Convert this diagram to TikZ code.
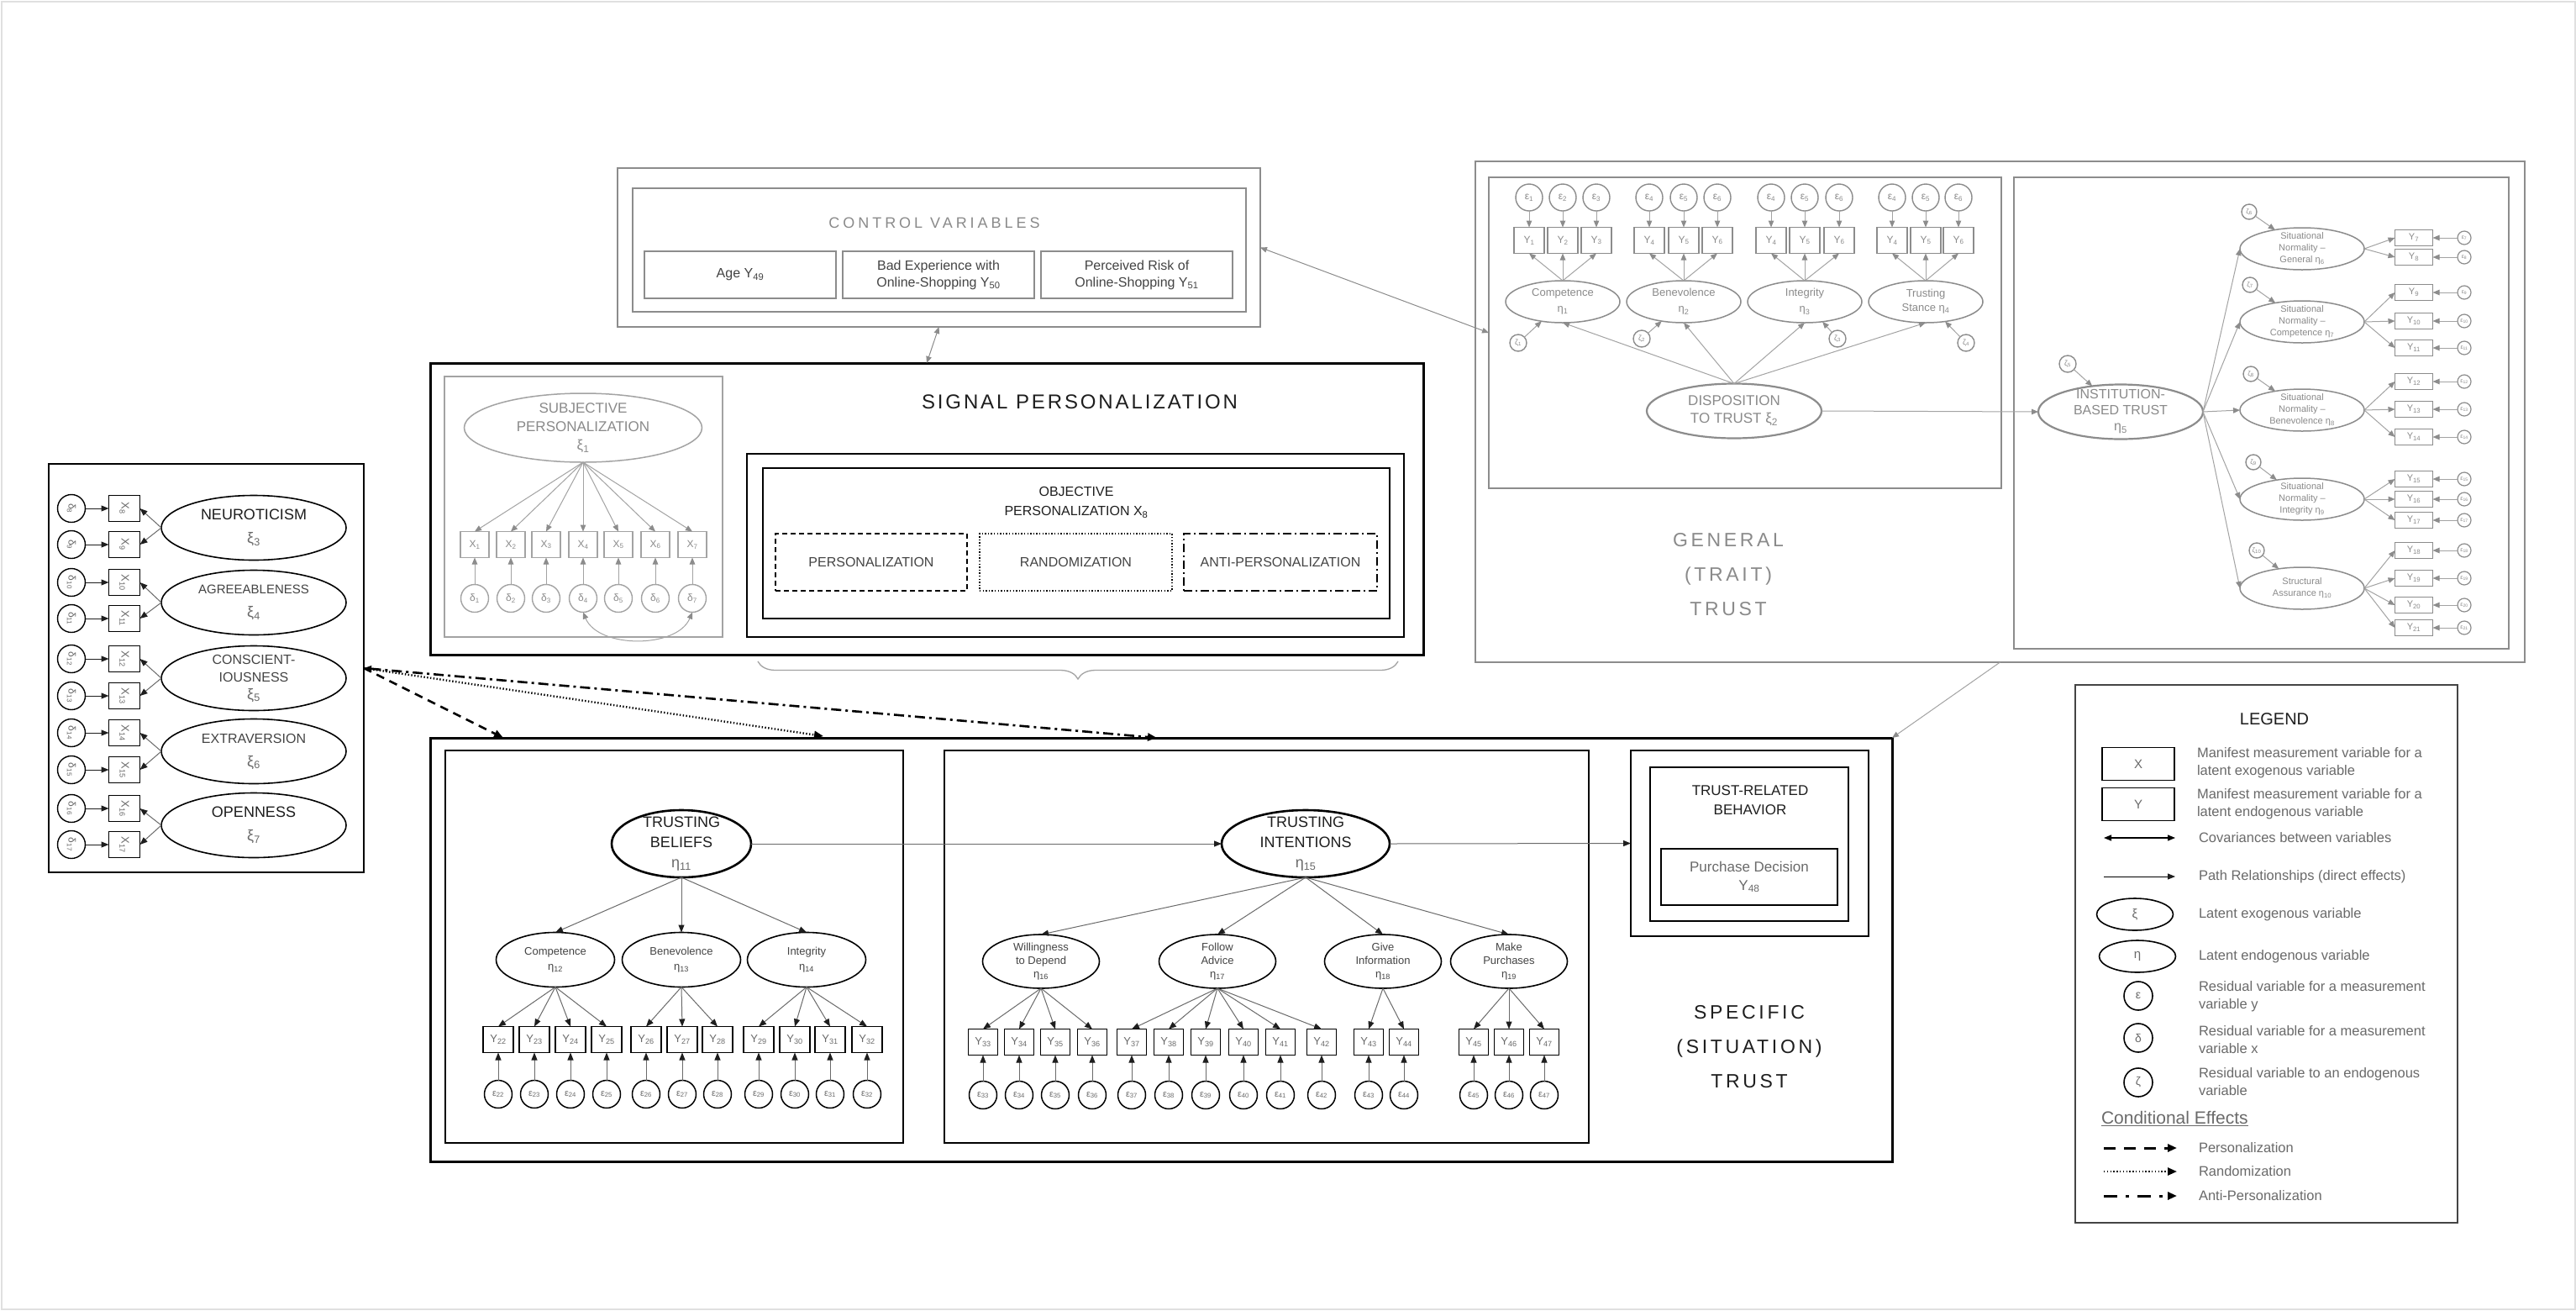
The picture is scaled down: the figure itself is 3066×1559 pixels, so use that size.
\documentclass[tikz,border=0pt]{standalone}
\usepackage{fontspec}
\setmainfont{Liberation Sans}
\newfontfamily\trackA[LetterSpace=12]{Liberation Sans}
\newfontfamily\trackB[LetterSpace=16]{Liberation Sans}
\newfontfamily\trackC[LetterSpace=22]{Liberation Sans}
\usetikzlibrary{shapes.geometric,arrows.meta,decorations.pathreplacing,calc}
\newcommand\fs[2]{\fontsize{#1}{#2}\selectfont}
\newcommand\sbs[1]{\textsubscript{#1}}
\definecolor{ink}{HTML}{1E1E1E}
\definecolor{dim}{HTML}{444444}
\definecolor{soft}{HTML}{6A6A6A}
\definecolor{gline}{HTML}{8C8C8C}
\definecolor{gtext}{HTML}{8A8A8A}
\definecolor{lline}{HTML}{A3A3A3}

\begin{document}
\begin{tikzpicture}[x=1pt,y=-1pt,
  every node/.style={inner sep=0pt, outer sep=0pt},
  sz/.style 2 args={minimum width=#1pt, minimum height=#2pt},
  panel/.style={draw, rectangle, anchor=north west, align=center},
  lat/.style={draw, ellipse, align=center, inner sep=-15pt},
  res/.style={draw, circle},
  mv/.style={draw, rectangle},
  ktip/.style={-{Triangle[length=9pt,width=7pt,color=ink]}},
  gtip/.style={-{Triangle[length=8pt,width=6.5pt,color=gline]}},
  lnk/.style={line width=1pt, draw=soft, ktip},
  glnk/.style={line width=1pt, draw=lline, gtip},
  % black model parts
  bmv/.style={mv, line width=1.5pt, text=soft},
  bres/.style={res, line width=1.5pt, text=soft},
  % grey model parts
  gmv/.style={mv, draw=gline, line width=1.4pt, text=gtext},
  gres/.style={res, draw=gline, line width=1.4pt, text=gtext},
  glat/.style={lat, draw=gline, line width=1.5pt, text=gtext},
  condP/.style={line width=2.6pt, dash pattern=on 10pt off 7pt, -{Triangle[length=11pt,width=9pt]}},
  condR/.style={line width=2.4pt, dash pattern=on 1.4pt off 2.4pt, -{Triangle[length=11pt,width=9pt]}},
  condA/.style={line width=2.6pt, dash pattern=on 12pt off 5pt on 3pt off 5pt, -{Triangle[length=11pt,width=9pt]}},
]
\fill[white] (0,0) rectangle (3066,1559);
\useasboundingbox (0,0) rectangle (3066,1559);
\draw[black!12, line width=2pt] (1.5,1.5) rectangle (3064.5,1557.5);

%% ---------- Big Five personality traits ----------
\node[panel, line width=1.4pt, sz={375}{486}] (big5) at (58,552) {};
\foreach \i/\yy in {8/605,9/648,10/693,11/736,12/784,13/828,14/872,15/916,16/962,17/1005}{
  \node[res, line width=1.4pt, minimum size=33pt, text=soft, font=\fs{12}{14}] (d\i) at (85,\yy) {\rotatebox{-90}{δ\sbs{\i}}};
  \node[mv, line width=1.4pt, sz={37}{31}, text=soft, font=\fs{13}{15}] (x\i) at (148,\yy) {\rotatebox{-90}{X\sbs{\i}}};
  \draw[line width=1pt, draw=ink, ktip] (d\i) -- (x\i);
}
\node[lat, line width=1.6pt, sz={220}{77}, font=\fs{18}{28}, text=ink] (neu) at (302,628) {NEUROTICISM\\{\color{soft}ξ\sbs{3}}};
\node[lat, line width=1.6pt, sz={220}{77}, font=\fs{15}{28}, text=dim] (agr) at (302,717) {AGREEABLENESS\\{\color{soft}\fs{18}{28}ξ\sbs{4}}};
\node[lat, line width=1.6pt, sz={220}{77}, font=\fs{16}{21}, text=dim] (con) at (302,807) {CONSCIENT-\\IOUSNESS\\{\color{soft}\fs{18}{26}ξ\sbs{5}}};
\node[lat, line width=1.6pt, sz={220}{77}, font=\fs{16}{28}, text=dim] (ext) at (302,894) {EXTRAVERSION\\{\color{soft}\fs{18}{28}ξ\sbs{6}}};
\node[lat, line width=1.6pt, sz={220}{77}, font=\fs{18}{28}, text=ink] (ope) at (302,982) {OPENNESS\\{\color{soft}ξ\sbs{7}}};
\foreach \e/\a/\b in {neu/8/9, agr/10/11, con/12/13, ext/14/15, ope/16/17}{
  \draw[lnk] (\e.west) -- (x\a.east);
  \draw[lnk] (\e.west) -- (x\b.east);
}

%% ---------- Control variables ----------
\node[panel, draw=gline, line width=1.8pt, sz={765}{189}] (ctrlout) at (735,200) {};
\node[panel, draw=gline, line width=1.5pt, sz={730}{147}] (ctrlin) at (753,224) {};
\node[text=gtext, font=\trackC\fs{18}{20}] (ctrltitle) at (1112,265) {CONTROL VARIABLES};
\node[panel, draw=gline, line width=1.5pt, sz={228}{56}, font=\fs{16}{20}, text=dim] (age) at (767,299) {Age Y\sbs{49}};
\node[panel, draw=gline, line width=1.5pt, sz={228}{56}, font=\fs{16}{20}, text=dim] (badexp) at (1003,299) {Bad Experience with\\Online-Shopping Y\sbs{50}};
\node[panel, draw=gline, line width=1.5pt, sz={228}{56}, font=\fs{16}{20}, text=dim] (risk) at (1239,299) {Perceived Risk of\\Online-Shopping Y\sbs{51}};

%% ---------- Signal personalization ----------
\node[panel, line width=3pt, sz={1182}{347}] (signal) at (512,432) {};
\node[font=\trackA\fs{24}{28}, text=ink] (sigtitle) at (1285,478) {SIGNAL PERSONALIZATION};

\node[panel, draw=lline, line width=1.6pt, sz={331}{310}] (subjbox) at (529,448) {};
\node[glat, draw=lline, sz={283}{82}, font=\fs{17}{22}] (subj) at (694,509) {SUBJECTIVE\\PERSONALIZATION\\ξ\sbs{1}};
\foreach \i/\xx in {1/565,2/608,3/650,4/694,5/736,6/780,7/824}{
  \node[gmv, draw=lline, sz={34}{31}, font=\fs{12}{14}] (sx\i) at (\xx,648) {X\sbs{\i}};
  \node[gres, draw=lline, minimum size=33pt, font=\fs{12}{14}] (sd\i) at (\xx,712) {δ\sbs{\i}};
  \draw[glnk] (subj.south) -- (sx\i.north);
  \draw[glnk] (sd\i) -- (sx\i);
}
\draw[line width=1pt, draw=lline, {Triangle[length=8pt,width=6.5pt,color=gline]}-{Triangle[length=8pt,width=6.5pt,color=gline]}]
  (sd4.south) .. controls (712,772) and (806,772) .. (sd7.south);

\node[panel, line width=1.6pt, sz={782}{218}] (objout) at (889,540) {};
\node[panel, line width=2pt, sz={746}{179}] (objin) at (908,557) {};
\node[font=\fs{16}{23}, text=ink, align=center] (objtitle) at (1281,598) {OBJECTIVE\\PERSONALIZATION X\sbs{8}};
\node[panel, line width=1.8pt, dash pattern=on 6pt off 4pt, sz={228}{68}, font=\fs{16}{20}, text=dim] (cpers) at (923,635) {PERSONALIZATION};
\node[panel, line width=1.8pt, dash pattern=on 1.4pt off 2.2pt, sz={229}{68}, font=\fs{16}{20}, text=dim] (crand) at (1166,635) {RANDOMIZATION};
\node[panel, line width=1.8pt, dash pattern=on 10pt off 4pt on 2pt off 4pt, sz={230}{68}, font=\fs{16}{20}, text=dim] (canti) at (1409,635) {ANTI-PERSONALIZATION};

\draw[lline, line width=1.3pt, decorate, decoration={brace, mirror, amplitude=21pt}] (902,787) -- (1664,787);

\draw[line width=1pt, draw=gline, {Triangle[length=8pt,width=6.5pt,color=gline]}-{Triangle[length=8pt,width=6.5pt,color=gline]}] (ctrlout.south) -- (signal.north);

%% ---------- General (trait) trust ----------
\node[panel, draw=gline, line width=2pt, sz={1249}{596}] (gen) at (1756,192) {};
\node[panel, draw=gline, line width=1.8pt, sz={610}{370}] (genL) at (1772,211) {};
\node[panel, draw=gline, line width=1.8pt, sz={589}{561}] (genR) at (2397,211) {};
\node[font=\trackB\fs{23}{41}, text=gtext, align=center] (gentitle) at (2057,684) {GENERAL\\(TRAIT)\\TRUST};

\draw[line width=1pt, draw=gline, {Triangle[length=8pt,width=6.5pt,color=gline]}-{Triangle[length=8pt,width=6.5pt,color=gline]}] (ctrlout.east) -- (genL.west);

\foreach \g/\la/\lb/\lc/\xa/\xb/\xc in {1/1/2/3/1820/1860/1900, 2/4/5/6/1963/2004/2044, 3/4/5/6/2108/2148/2189, 4/4/5/6/2252/2292/2331}{
  \foreach \k/\n/\xx in {a/\la/\xa, b/\lb/\xb, c/\lc/\xc}{
    \node[gmv, sz={36}{31}, font=\fs{12}{14}] (gy\g\k) at (\xx,286) {Y\sbs{\n}};
    \node[gres, minimum size=32pt, font=\fs{12}{14}] (ge\g\k) at (\xx,235) {ε\sbs{\n}};
    \draw[glnk] (ge\g\k) -- (gy\g\k);
  }
}
\node[glat, sz={136}{50}, font=\fs{13}{19}] (gl1) at (1860,359) {Competence\\η\sbs{1}};
\node[glat, sz={136}{50}, font=\fs{13}{19}] (gl2) at (2004,359) {Benevolence\\η\sbs{2}};
\node[glat, sz={136}{50}, font=\fs{13}{19}] (gl3) at (2148,359) {Integrity\\η\sbs{3}};
\node[glat, sz={136}{50}, font=\fs{13}{17}] (gl4) at (2292,359) {Trusting\\Stance η\sbs{4}};
\foreach \g in {1,2,3,4}{
  \foreach \k in {a,b,c}{ \draw[glnk] (gl\g.north) -- (gy\g\k.south); }
}
\node[gres, minimum size=20pt, font=\fs{9}{10}] (gz1) at (1807,408) {ζ\sbs{1}};
\node[gres, minimum size=20pt, font=\fs{9}{10}] (gz2) at (1954,403) {ζ\sbs{2}};
\node[gres, minimum size=20pt, font=\fs{9}{10}] (gz3) at (2187,403) {ζ\sbs{3}};
\node[gres, minimum size=20pt, font=\fs{9}{10}] (gz4) at (2340,408) {ζ\sbs{4}};
\foreach \g in {1,2,3,4}{ \draw[glnk] (gz\g) -- (gl\g); }

\node[glat, line width=2.2pt, sz={208}{65}, font=\fs{17}{21}] (disp) at (2064,489) {DISPOSITION\\TO TRUST ξ\sbs{2}};
\foreach \g in {1,2,3,4}{ \draw[glnk] (disp.north) -- (gl\g.south); }

\node[glat, line width=2.2pt, sz={196}{65}, font=\fs{16}{19}] (inst) at (2524,490) {INSTITUTION-\\BASED TRUST\\η\sbs{5}};
\draw[glnk] (disp.east) -- (inst.west);
\node[gres, minimum size=20pt, font=\fs{9}{10}] (gz5) at (2461,433) {ζ\sbs{5}};
\draw[glnk] (gz5) -- (inst);

\foreach \s/\yy/\zx/\zy/\t in {
   6/296/2677/252/{Situational\\Normality –\\General η\sbs{6}},
   7/383/2678/339/{Situational\\Normality –\\Competence η\sbs{7}},
   8/488/2679/445/{Situational\\Normality –\\Benevolence η\sbs{8}},
   9/594/2682/550/{Situational\\Normality –\\Integrity η\sbs{9}},
   10/700/2686/655/{Structural\\Assurance η\sbs{10}}}{
  \node[glat, line width=1.5pt, sz={148}{50}, font=\fs{11}{14}] (sit\s) at (2740,\yy) {\t};
  \node[gres, minimum size=18pt, font=\fs{8}{9}] (sz\s) at (\zx,\zy) {ζ\sbs{\s}};
  \draw[glnk] (sz\s) -- (sit\s);
  \draw[glnk] (inst.east) -- (sit\s.west);
}
\foreach \i/\yy/\s in {7/283/6, 8/306/6, 9/348/7, 10/382/7, 11/414/7, 12/454/8, 13/487/8, 14/520/8, 15/570/9, 16/594/9, 17/619/9, 18/655/10, 19/688/10, 20/720/10, 21/747/10}{
  \node[gmv, line width=1.3pt, sz={45}{19}, font=\fs{11}{12}] (ry\i) at (2873,\yy) {Y\sbs{\i}};
  \node[gres, line width=1.2pt, minimum size=16pt, font=\fs{7}{8}] (re\i) at (2933,\yy) {ε\sbs{\i}};
  \draw[glnk] (re\i) -- (ry\i);
  \draw[glnk] (sit\s.east) -- (ry\i.west);
}

%% ---------- Specific (situation) trust ----------
\node[panel, line width=3pt, sz={1740}{504}] (spec) at (512,878) {};
\node[panel, line width=1.6pt, sz={545}{467}] (tbbox) at (530,893) {};
\node[panel, line width=1.6pt, sz={767}{467}] (tibox) at (1124,893) {};
\node[panel, line width=1.6pt, sz={283}{221}] (trbout) at (1941,893) {};
\node[panel, line width=1.6pt, sz={236}{183}] (trbmid) at (1964,913) {};
\node[font=\fs{17}{23}, text=ink, align=center] (trbtitle) at (2083,952) {TRUST-RELATED\\BEHAVIOR};
\node[panel, line width=1.6pt, sz={210}{67}, font=\fs{17}{22}, text=soft] (purch) at (1977,1010) {Purchase Decision\\Y\sbs{48}};
\node[font=\trackB\fs{23}{41}, text=ink, align=center] (spectitle) at (2082,1246) {SPECIFIC\\(SITUATION)\\TRUST};

\draw[glnk] (gen.south) -- (spec.north east);

% trusting beliefs
\node[lat, line width=2.6pt, sz={166}{80}, font=\fs{18}{24}, text=ink] (tb) at (811,1004) {TRUSTING\\BELIEFS\\{\color{soft}η\sbs{11}}};
\foreach \n/\xx/\t in {tbc/661/{Competence\\η\sbs{12}}, tbb/811/{Benevolence\\η\sbs{13}}, tbi/960/{Integrity\\η\sbs{14}}}{
  \node[lat, line width=1.6pt, sz={141}{65}, font=\fs{13}{18}, text=dim] (\n) at (\xx,1142) {\t};
  \draw[lnk] (tb.south) -- (\n.north);
}
\foreach \i/\xx/\p in {22/593/tbc, 23/636/tbc, 24/679/tbc, 25/722/tbc, 26/769/tbb, 27/812/tbb, 28/854/tbb, 29/903/tbi, 30/946/tbi, 31/988/tbi, 32/1032/tbi}{
  \node[bmv, sz={36}{31}, font=\fs{13}{15}] (y\i) at (\xx,1237) {Y\sbs{\i}};
  \node[bres, minimum size=33pt, font=\fs{11}{13}] (e\i) at (\xx,1302) {ε\sbs{\i}};
  \draw[lnk] (\p.south) -- (y\i.north);
  \draw[lnk] (e\i) -- (y\i);
}

% trusting intentions
\node[lat, line width=2.6pt, sz={200}{80}, font=\fs{18}{24}, text=ink] (ti) at (1554,1004) {TRUSTING\\INTENTIONS\\{\color{soft}η\sbs{15}}};
\foreach \n/\xx/\t in {tiw/1239/{Willingness\\to Depend\\η\sbs{16}}, tif/1449/{Follow\\Advice\\η\sbs{17}}, tig/1646/{Give\\Information\\η\sbs{18}}, tim/1796/{Make\\Purchases\\η\sbs{19}}}{
  \node[lat, line width=1.6pt, sz={139}{64}, font=\fs{13}{16}, text=dim] (\n) at (\xx,1144) {\t};
  \draw[lnk] (ti.south) -- (\n.north);
}
\foreach \i/\xx/\p in {33/1170/tiw, 34/1213/tiw, 35/1256/tiw, 36/1300/tiw, 37/1347/tif, 38/1391/tif, 39/1435/tif, 40/1480/tif, 41/1524/tif, 42/1573/tif, 43/1629/tig, 44/1671/tig, 45/1754/tim, 46/1796/tim, 47/1838/tim}{
  \node[bmv, sz={35}{31}, font=\fs{13}{15}] (y\i) at (\xx,1240) {Y\sbs{\i}};
  \node[bres, minimum size=33pt, font=\fs{11}{13}] (e\i) at (\xx,1303) {ε\sbs{\i}};
  \draw[lnk] (\p.south) -- (y\i.north);
  \draw[lnk] (e\i) -- (y\i);
}
\draw[lnk] (tb.east) -- (ti.west);
\draw[lnk] (ti.east) -- (trbout.west);

%% ---------- Conditional effects of the signal ----------
\coordinate (cpEnd) at (599,878);
\coordinate (crEnd) at (980,876);
\coordinate (caEnd) at (1377,878);
\draw[condP] (big5.east) -- (cpEnd);
\draw[condR] (big5.east) -- (crEnd);
\draw[condA, {Triangle[length=9pt,width=7pt]}-{Triangle[length=11pt,width=9pt]}] (big5.east) -- (caEnd);

%% ---------- Legend ----------
\node[panel, draw=dim, line width=1.6pt, sz={455}{640}] (leg) at (2470,815) {};
\node[font=\fs{20}{24}, text=ink] (legtitle) at (2707,856) {LEGEND};
\tikzset{legtxt/.style={anchor=west, align=left, font=\fs{16.5}{21}, text=soft}}
\node[mv, line width=1.6pt, sz={86}{39}, font=\fs{15}{18}, text=soft] (legX) at (2545,909) {X};
\node[legtxt] (legXt) at (2615,908) {Manifest measurement variable for a\\latent exogenous variable};
\node[mv, line width=1.6pt, sz={86}{39}, font=\fs{15}{18}, text=soft] (legY) at (2545,957) {Y};
\node[legtxt] (legYt) at (2615,957) {Manifest measurement variable for a\\latent endogenous variable};
\coordinate (covA) at (2504,997);
\coordinate (covB) at (2589,997);
\draw[line width=1.2pt, {Triangle[length=9pt,width=7pt]}-{Triangle[length=9pt,width=7pt]}] (covA) -- (covB);
\node[legtxt] (legCt) at (2617,997) {Covariances between variables};
\coordinate (pthA) at (2504,1043);
\coordinate (pthB) at (2589,1043);
\draw[line width=0.9pt, ktip] (pthA) -- (pthB);
\node[legtxt] (legPt) at (2617,1043) {Path Relationships (direct effects)};
\node[lat, line width=1.6pt, sz={91}{38}, font=\fs{15}{18}, text=soft] (legXi) at (2541,1088) {ξ};
\node[legtxt] (legXit) at (2617,1088) {Latent exogenous variable};
\node[lat, line width=1.6pt, sz={91}{38}, font=\fs{15}{18}, text=soft] (legEta) at (2544,1138) {η};
\node[legtxt] (legEtat) at (2617,1138) {Latent endogenous variable};
\node[res, line width=1.6pt, minimum size=34pt, font=\fs{14}{16}, text=soft] (legEps) at (2545,1185) {ε};
\node[legtxt] (legEpst) at (2617,1186) {Residual variable for a measurement\\variable y};
\node[res, line width=1.6pt, minimum size=34pt, font=\fs{14}{16}, text=soft] (legDel) at (2545,1235) {δ};
\node[legtxt] (legDelt) at (2617,1237) {Residual variable for a measurement\\variable x};
\node[res, line width=1.6pt, minimum size=34pt, font=\fs{14}{16}, text=soft] (legZet) at (2545,1288) {ζ};
\node[legtxt] (legZett) at (2617,1287) {Residual variable to an endogenous\\variable};
\node[anchor=west, font=\fs{21}{24}, text=soft] (legCond) at (2501,1331) {\underline{Conditional Effects}};
\coordinate (lpA) at (2504,1366);
\coordinate (lpB) at (2591,1366);
\draw[condP, line width=3pt, dash pattern=on 14pt off 10pt] (lpA) -- (lpB);
\node[legtxt] (legPers) at (2617,1366) {Personalization};
\coordinate (lrA) at (2504,1394);
\coordinate (lrB) at (2591,1394);
\draw[condR] (lrA) -- (lrB);
\node[legtxt] (legRand) at (2617,1394) {Randomization};
\coordinate (laA) at (2504,1423);
\coordinate (laB) at (2591,1423);
\draw[condA, line width=3pt, dash pattern=on 16pt off 10pt on 4pt off 10pt] (laA) -- (laB);
\node[legtxt] (legAnti) at (2617,1423) {Anti-Personalization};
\end{tikzpicture}
\end{document}
